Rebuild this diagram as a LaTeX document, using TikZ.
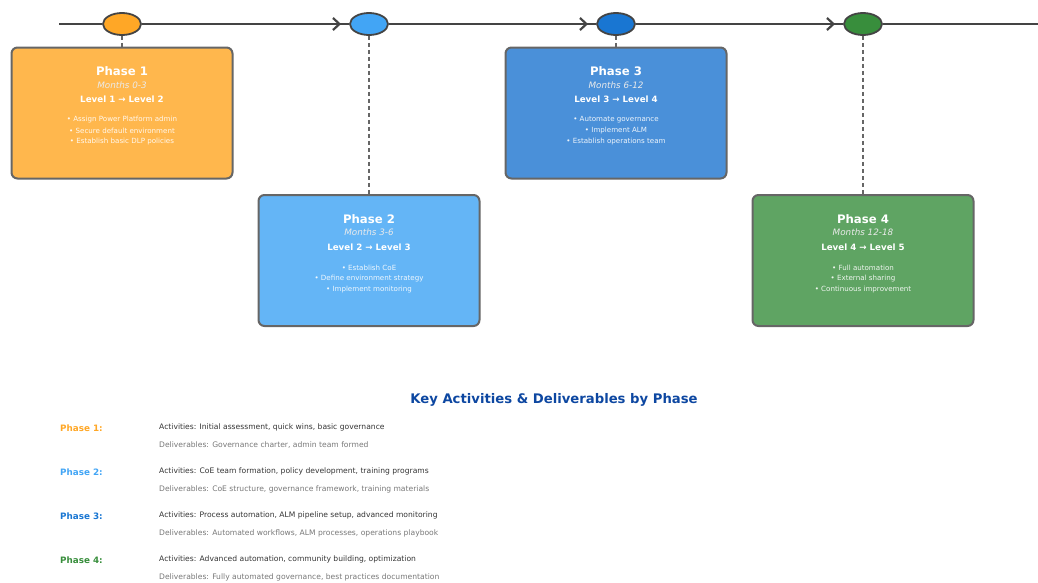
\documentclass[tikz,border=0pt]{standalone}
\usepackage{fontspec}
\setmainfont{DejaVu Sans}
\usetikzlibrary{arrows.meta,shapes.geometric}
\definecolor{ink}{HTML}{444444}
\definecolor{edge}{HTML}{666666}
\definecolor{cA}{HTML}{FFA726}
\definecolor{cB}{HTML}{42A5F5}
\definecolor{cC}{HTML}{1976D2}
\definecolor{cD}{HTML}{388E3C}
\definecolor{fA}{HTML}{FFB74D}
\definecolor{fB}{HTML}{64B5F6}
\definecolor{fC}{HTML}{4A90D9}
\definecolor{fD}{HTML}{5FA463}
\definecolor{titleblue}{HTML}{0D47A1}
\definecolor{acttext}{HTML}{333333}
\definecolor{deltext}{HTML}{777777}
\tikzset{
  milestone/.style={ellipse, draw=ink, line width=1.8pt, minimum width=38pt, minimum height=22pt, inner sep=0pt},
  phasebox/.style={draw=edge, line width=2pt, rounded corners=6pt, minimum width=221pt, minimum height=131pt, inner sep=0pt},
  timeline/.style={draw=ink, line width=2.8pt},
  tick/.style={-{Straight Barb[length=6.5pt,width=12pt,line width=2.2pt]}},
  drop/.style={draw=edge, line width=1.7pt, dash pattern=on 4pt off 3pt},
  ptitle/.style={text=white, font=\bfseries\fontsize{11.7}{13}\selectfont},
  pmonths/.style={text=white!92!black, font=\itshape\fontsize{8.8}{10}\selectfont},
  plevel/.style={text=white, font=\bfseries\fontsize{8.7}{10}\selectfont},
  pbullet/.style={text=white, text opacity=0.9, font=\fontsize{7.1}{8}\selectfont},
  heading/.style={text=titleblue, font=\bfseries\fontsize{13.2}{15}\selectfont},
  plabel/.style={anchor=west, inner sep=0pt, font=\bfseries\fontsize{8.8}{10}\selectfont},
  actline/.style={anchor=west, inner sep=0pt, text=acttext, font=\fontsize{7.6}{9}\selectfont},
  delline/.style={anchor=west, inner sep=0pt, text=deltext, font=\fontsize{7.6}{9}\selectfont},
}
\begin{document}
\begin{tikzpicture}[x=1pt,y=-1pt]
\useasboundingbox (0,0) rectangle (1038,582);

% timeline milestones
\node[milestone, fill=cA] (m1) at (122,24) {};
\node[milestone, fill=cB] (m2) at (369,24) {};
\node[milestone, fill=cC] (m3) at (616,24) {};
\node[milestone, fill=cD] (m4) at (863,24) {};
\coordinate (tstart) at (59,24);
\coordinate (tend) at (1038,24);

\draw[timeline] (tstart) -- (m1.west);
\draw[timeline, tick] (m1.east) -- ([xshift=-8pt]m2.west);
\draw[timeline] ([xshift=-9pt]m2.west) -- (m2.west);
\draw[timeline, tick] (m2.east) -- ([xshift=-8pt]m3.west);
\draw[timeline] ([xshift=-9pt]m3.west) -- (m3.west);
\draw[timeline, tick] (m3.east) -- ([xshift=-8pt]m4.west);
\draw[timeline] ([xshift=-9pt]m4.west) -- (m4.west);
\draw[timeline] (m4.east) -- (tend);

% phase boxes
\node[phasebox, fill=fA] (b1) at (122,113) {};
\node[phasebox, fill=fB] (b2) at (369,260.5) {};
\node[phasebox, fill=fC] (b3) at (616,113) {};
\node[phasebox, fill=fD] (b4) at (863,260.5) {};

\draw[drop] (m1.south) -- (b1.north);
\draw[drop] (m2.south) -- (b2.north);
\draw[drop] (m3.south) -- (b3.north);
\draw[drop] (m4.south) -- (b4.north);

% box contents
\node[ptitle]  (t1) at (122,71) {Phase 1};
\node[pmonths] (n1) at (122,85) {Months 0-3};
\node[plevel]  (l1) at (122,99.5) {Level 1 → Level 2};
\node[pbullet] (u1a) at (122,120) {• Assign Power Platform admin};
\node[pbullet] (u1b) at (122,131) {• Secure default environment};
\node[pbullet] (u1c) at (122,142) {• Establish basic DLP policies};

\node[ptitle]  (t2) at (369,219) {Phase 2};
\node[pmonths] (n2) at (369,232) {Months 3-6};
\node[plevel]  (l2) at (369,247) {Level 2 → Level 3};
\node[pbullet] (u2a) at (369,268) {• Establish CoE};
\node[pbullet] (u2b) at (369,279) {• Define environment strategy};
\node[pbullet] (u2c) at (369,290) {• Implement monitoring};

\node[ptitle]  (t3) at (616,71) {Phase 3};
\node[pmonths] (n3) at (616,85) {Months 6-12};
\node[plevel]  (l3) at (616,99.5) {Level 3 → Level 4};
\node[pbullet] (u3a) at (616,120) {• Automate governance};
\node[pbullet] (u3b) at (616,131) {• Implement ALM};
\node[pbullet] (u3c) at (616,142) {• Establish operations team};

\node[ptitle]  (t4) at (863,219) {Phase 4};
\node[pmonths] (n4) at (863,232) {Months 12-18};
\node[plevel]  (l4) at (863,247) {Level 4 → Level 5};
\node[pbullet] (u4a) at (863,268) {• Full automation};
\node[pbullet] (u4b) at (863,279) {• External sharing};
\node[pbullet] (u4c) at (863,290) {• Continuous improvement};

% summary table
\node[heading] (head) at (554,400) {Key Activities \& Deliverables by Phase};

\node[plabel, text=cA] (p1) at (60,428) {Phase 1:};
\node[actline] (a1) at (159,427) {Activities: Initial assessment, quick wins, basic governance};
\node[delline] (d1) at (159,445.5) {Deliverables: Governance charter, admin team formed};

\node[plabel, text=cB] (p2) at (60,472) {Phase 2:};
\node[actline] (a2) at (159,471) {Activities: CoE team formation, policy development, training programs};
\node[delline] (d2) at (159,489.5) {Deliverables: CoE structure, governance framework, training materials};

\node[plabel, text=cC] (p3) at (60,516) {Phase 3:};
\node[actline] (a3) at (159,515) {Activities: Process automation, ALM pipeline setup, advanced monitoring};
\node[delline] (d3) at (159,533.5) {Deliverables: Automated workflows, ALM processes, operations playbook};

\node[plabel, text=cD] (p4) at (60,560) {Phase 4:};
\node[actline] (a4) at (159,559) {Activities: Advanced automation, community building, optimization};
\node[delline] (d4) at (159,577.5) {Deliverables: Fully automated governance, best practices documentation};
\end{tikzpicture}
\end{document}
